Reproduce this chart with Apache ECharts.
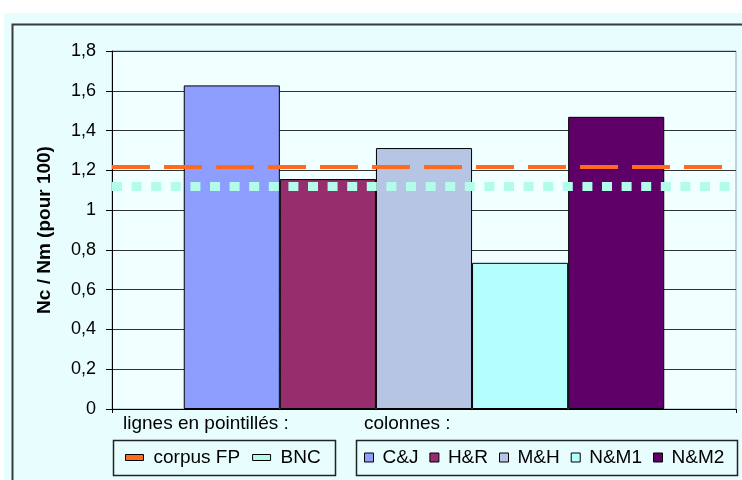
<!DOCTYPE html>
<html>
<head>
<meta charset="utf-8">
<script src="https://cdn.jsdelivr.net/npm/echarts@6/dist/echarts.min.js"></script>
<style>html,body{margin:0;padding:0;background:#fff}#c{width:742px;height:480px}</style>
</head>
<body>
<div id="c"></div>
<script>
const categories = [''];
const barNames = ['C&J', 'H&R', 'M&H', 'N&M1', 'N&M2'];
const barValues = [1.627, 1.156, 1.312, 0.735, 1.469];
const barColors = ['#8E9EFF', '#962E6E', '#B7C5E5', '#B4FEFE', '#5E0068'];
const lineNames = ['corpus FP', 'BNC'];
const lineValues = [1.223, 1.118];
const lineColors = ['#FF6A1E', '#B4FCEA'];
const yTicks = { min: 0, max: 1.8, interval: 0.2 };

const FONT = '"Liberation Sans", Arial, sans-serif';
const chart = echarts.init(document.getElementById('c'), null, { renderer: 'canvas' });

const series = [];
barNames.forEach((n, i) => {
  series.push({
    name: n, type: 'bar', data: [barValues[i]],
    barGap: '0%', barCategoryGap: '23%',
    itemStyle: { color: barColors[i], borderColor: '#000', borderWidth: 1 },
    z: 2
  });
});
const lineStyles = [
  { width: 4, type: [38, 14] },
  { width: 9, type: [10, 9.6] }
];
lineNames.forEach((n, i) => {
  series.push({
    name: n, type: 'line', data: [], z: 5,
    itemStyle: { color: lineColors[i] },
    lineStyle: { color: lineColors[i] },
    markLine: {
      silent: true, symbol: ['none', 'none'], label: { show: false },
      lineStyle: Object.assign({ color: lineColors[i], opacity: 1 }, lineStyles[i]),
      emphasis: { disabled: true },
      data: [{ yAxis: lineValues[i] }]
    }
  });
});

chart.setOption({
  animation: false,
  backgroundColor: '#ffffff',
  textStyle: { fontFamily: FONT },
  graphic: [
    { type: 'rect', z: -20, shape: { x: 4, y: 13, width: 760, height: 480 }, style: { fill: '#E8FDFD' } },
    { type: 'rect', z: -19, shape: { x: 12.5, y: 24.5, width: 760, height: 480 }, style: { fill: 'none', stroke: '#3a3a3a', lineWidth: 2 } },
    { type: 'rect', z: 10, shape: { x: 113.5, y: 440.5, width: 222, height: 35 }, style: { fill: 'none', stroke: '#222', lineWidth: 1.5 } },
    { type: 'rect', z: 10, shape: { x: 356.5, y: 440.5, width: 381, height: 35 }, style: { fill: 'none', stroke: '#222', lineWidth: 1.5 } },
    { type: 'text', z: 10, left: 123, top: 414, style: { text: 'lignes en pointillés :', font: '19px ' + FONT, fill: '#000' } },
    { type: 'text', z: 10, left: 364, top: 414, style: { text: 'colonnes :', font: '19px ' + FONT, fill: '#000' } }
  ],
  grid: {
    left: 112, right: 6, top: 51, bottom: 71,
    show: true, backgroundColor: '#F0FFFF', borderColor: '#98A4B8', borderWidth: 1
  },
  legend: [
    {
      data: lineNames, left: 125, top: 448, padding: 0, itemGap: 12,
      icon: 'rect', itemWidth: 18, itemHeight: 6,
      itemStyle: { borderColor: '#000', borderWidth: 1 },
      textStyle: { fontFamily: FONT, fontSize: 19, color: '#000', padding: [0, 0, 0, 5] },
      selectedMode: false
    },
    {
      data: barNames, left: 364, top: 448, padding: 0, itemGap: 11,
      icon: 'rect', itemWidth: 9, itemHeight: 9,
      itemStyle: { borderColor: '#000', borderWidth: 1 },
      textStyle: { fontFamily: FONT, fontSize: 19, color: '#000', padding: [0, 0, 0, 4] },
      selectedMode: false
    }
  ],
  xAxis: {
    type: 'category', data: categories,
    axisLine: { lineStyle: { color: '#000', width: 1 } },
    axisTick: { show: true, length: 4, lineStyle: { color: '#000' } },
    axisLabel: { show: false }
  },
  yAxis: {
    type: 'value', min: yTicks.min, max: yTicks.max, interval: yTicks.interval,
    name: 'Nc / Nm (pour 100)', nameLocation: 'middle', nameRotate: 90, nameGap: 58,
    nameTextStyle: { fontFamily: FONT, fontSize: 19, fontWeight: 'bold', color: '#000' },
    axisLine: { show: true, lineStyle: { color: '#000', width: 1 } },
    axisTick: { show: true, length: 6, lineStyle: { color: '#000' } },
    axisLabel: {
      margin: 16, fontFamily: FONT, fontSize: 18, color: '#000',
      formatter: v => String(+v.toFixed(1)).replace('.', ',')
    },
    splitLine: { show: true, lineStyle: { color: '#333', width: 1 } }
  },
  series: series
});
</script>
</body>
</html>
